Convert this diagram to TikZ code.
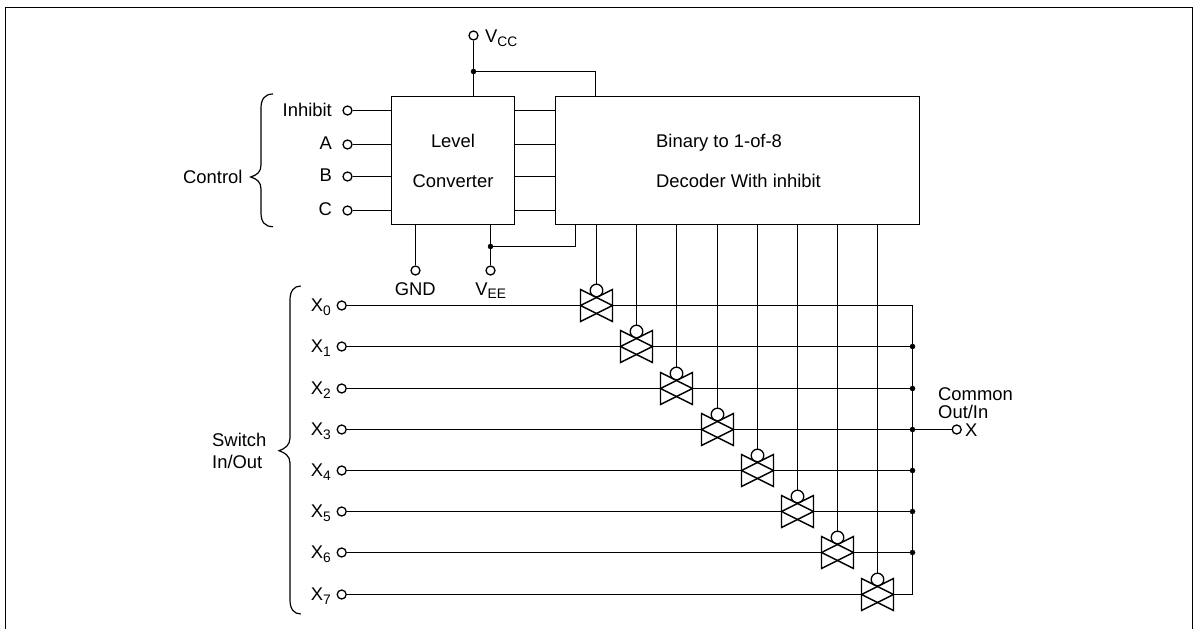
\documentclass[tikz,border=0pt]{standalone}
\usepackage{fontspec}
\setmainfont{Liberation Sans}
\usetikzlibrary{calc}
\newcommand{\subt}[1]{{\fontsize{13.8}{14}\selectfont\raisebox{-3.6pt}{#1}}}
\tikzset{
  wire/.style={line width=1.4pt,color=black},
  boxn/.style={draw=black,line width=1.4pt,inner sep=0pt,rectangle},
  term/.style={circle,draw=black,line width=1.3pt,inner sep=0pt,minimum size=9pt,fill=white},
  gate/.style={circle,draw=black,line width=1.3pt,inner sep=0pt,minimum size=12.6pt},
  dotj/.style={circle,fill=black,inner sep=0pt,minimum size=5.5pt},
  swbox/.style={rectangle,inner sep=0pt,minimum width=32pt,minimum height=32pt,outer sep=0pt},
  lab/.style={anchor=base west,inner sep=0pt,font=\fontsize{18.4}{20}\selectfont,color=black},
  labr/.style={anchor=base east,inner sep=0pt,font=\fontsize{18.4}{20}\selectfont,color=black},
  labc/.style={anchor=base,inner sep=0pt,font=\fontsize{18.4}{20}\selectfont,color=black},
}
\begin{document}
\begin{tikzpicture}[x=1pt,y=-1pt]
\useasboundingbox (0,0) rectangle (1200,629);
% frame
\draw[wire] (5.5,629) -- (5.5,7.5) -- (1192.5,7.5) -- (1192.5,629);
% main boxes
\node[boxn,anchor=north west,outer sep=0pt,minimum width=123pt,minimum height=128pt] (lev) at (391.5,96.5) {};
\node[boxn,anchor=north west,outer sep=0pt,minimum width=364pt,minimum height=128pt] (dec) at (555.5,96.5) {};
\node[labc] (levt) at (453,147.8) {Level};
\node[labc] (cont) at (453,187.8) {Converter};
\node[lab] (bint) at (656,147.8) {Binary to 1-of-8};
\node[lab] (dect) at (656,187.8) {Decoder With inhibit};
% control inputs
\foreach \n/\t/\y/\b in {i/Inhibit/110.5/116.7,a/A/144.5/149.5,b/B/176.5/181.7,c/C/210.5/215.5}{
  \node[term] (t\n) at (347.5,\y) {};
  \node[labr] (l\n) at (332,\b) {\t};
  \draw[wire] (t\n) -- (t\n -| lev.west);
  \draw[wire] (t\n -| lev.east) -- (t\n -| dec.west);
}
% Vcc
\node[term] (vcc) at (473.5,35.5) {};
\node[lab] (vcct) at (485,42.7) {V\subt{CC}};
\coordinate (vj) at (473.5,71.5);
\coordinate (vd) at (595.5,71.5);
\draw[wire] (vcc) -- (vcc |- lev.north);
\draw[wire] (vj) -- (vd) -- (vd |- dec.north);
\node[dotj] (vjd) at (vj) {};
% GND
\node[term] (gnd) at (415.5,270.5) {};
\node[labc] (gndt) at (415.3,295) {GND};
\draw[wire] (gnd) -- (gnd |- lev.south);
% Vee
\node[term] (vee) at (490.5,270.5) {};
\node[labc] (veet) at (490.7,295) {V\subt{EE}};
\coordinate (ej) at (490.5,246.5);
\coordinate (ed) at (575.5,246.5);
\draw[wire] (vee) -- (vee |- lev.south);
\draw[wire] (ej) -- (ed) -- (ed |- dec.south);
\node[dotj] (ejd) at (ej) {};
% braces
\draw[wire,line width=1.2pt] (273,94) .. controls (265,94) and (261,99) .. (261,108) -- (261,165) .. controls (261,172) and (257,175) .. (250.7,177) .. controls (257,179) and (261,182) .. (261,189) -- (261,213) .. controls (261,222) and (265,226.7) .. (273,226.7);
\draw[wire,line width=1.2pt] (300.7,286) .. controls (294,286) and (290,291) .. (290,300) -- (290,438) .. controls (290,445) and (285,448.7) .. (279,450.7) .. controls (285,452.7) and (290,456) .. (290,463) -- (290,600) .. controls (290,609) and (294,614) .. (300.7,614);
\node[lab] (ctl) at (183,183) {Control};
\node[lab] (swt) at (212,446.7) {Switch};
\node[lab] (swi) at (212,468) {In/Out};
% common
\coordinate (bt) at (912.5,305.5);
\coordinate (bb) at (912.5,594.5);
\draw[wire] (bt) -- (bb);
\node[term] (xo) at (956.7,429.5) {};
\node[lab] (comt) at (938,400) {Common};
\node[lab] (outt) at (938,418) {Out/In};
\node[lab] (xt) at (965,436) {X};
% switches
\foreach \i in {0,...,7}{
  \pgfmathsetmacro{\yy}{floor(305.7+41.2*\i)+0.5}
  \pgfmathsetmacro{\xx}{floor(596.7+40.1*\i)+0.5}
  \node[term] (x\i) at (341.7,\yy) {};
  \node[lab] (xl\i) at (310.7,\yy+6) {X\subt{\i}};
  \node[swbox] (sw\i) at (\xx,\yy) {};
  \node[gate] (g\i) at (\xx,\yy-15) {};
  \draw[wire] (x\i) -- (sw\i.west);
  \draw[wire] (sw\i.east) -- (sw\i -| bt);
  \draw[wire] (g\i) -- (g\i |- dec.south);
  \draw[wire,line join=miter] (sw\i.east) -- (sw\i.north west) -- (sw\i.south west) -- (sw\i.east);
  \draw[wire,line join=miter] (sw\i.west) -- (sw\i.north east) -- (sw\i.south east) -- (sw\i.west);
}
\foreach \i in {1,...,6}{
  \node[dotj] (jn\i) at (sw\i -| bt) {};
}
\draw[wire] (sw3 -| bt) -- (xo);
\end{tikzpicture}
\end{document}
